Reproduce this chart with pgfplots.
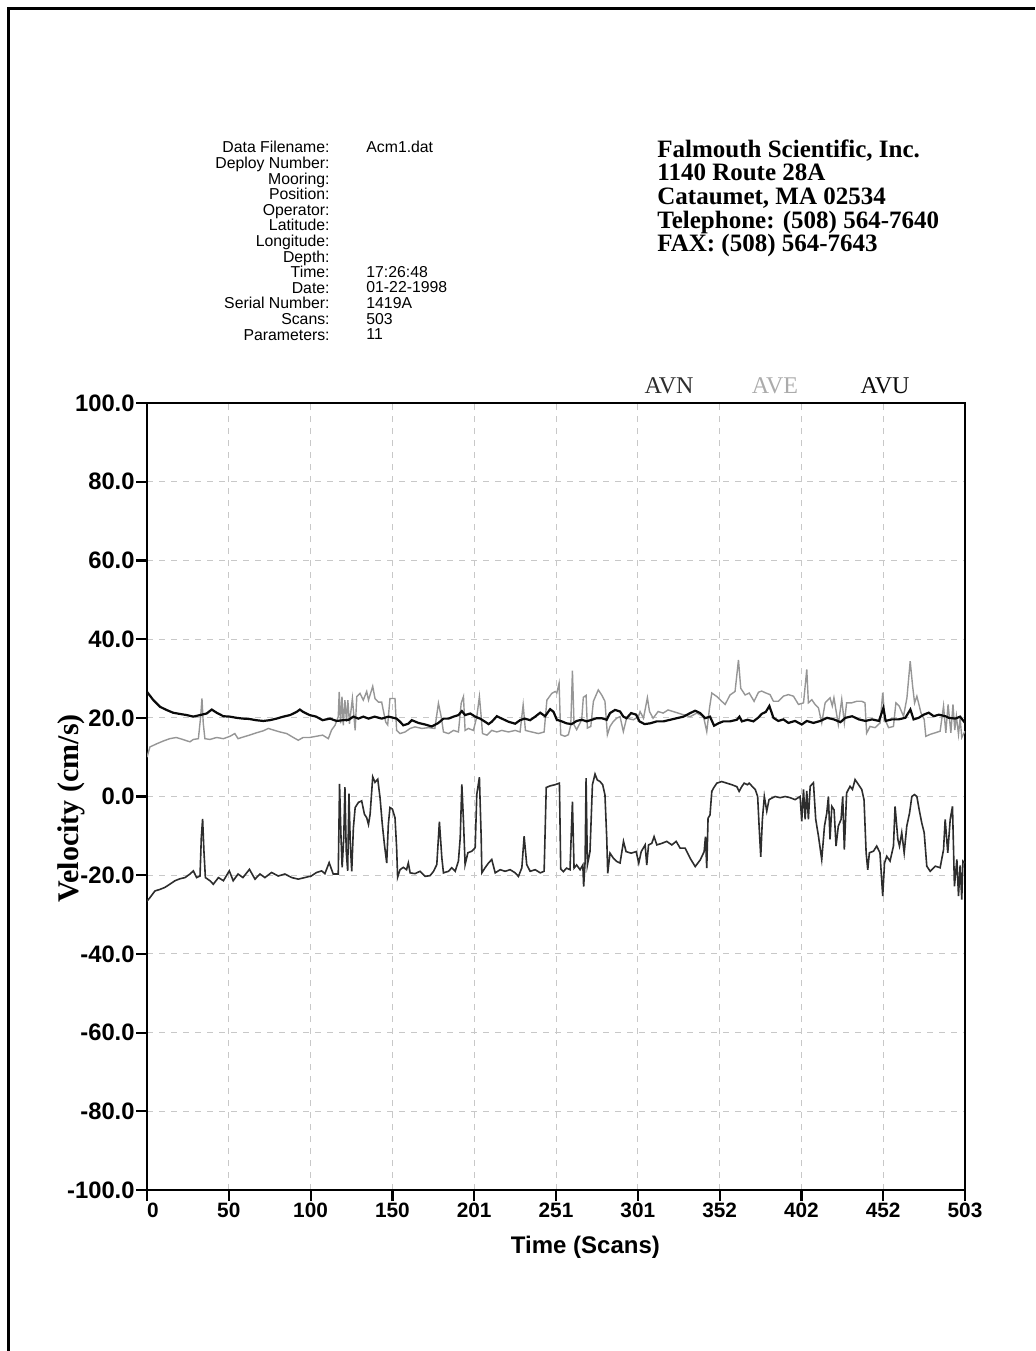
\documentclass[border=0pt]{standalone}
\usepackage{pgfplots}
\pgfplotsset{compat=1.18}
\usepackage{fontspec}
\setmainfont{Liberation Serif}
\newfontfamily\arial{Liberation Sans}
\newfontfamily\tnr{Liberation Serif}
\definecolor{avn}{RGB}{45,45,45}
\definecolor{ave}{RGB}{150,150,150}
\definecolor{avu}{RGB}{10,10,10}
\definecolor{gridc}{RGB}{200,200,200}
\begin{document}
\begin{tikzpicture}[x=0.5pt,y=-0.5pt]
\useasboundingbox (0,0) rectangle (1035,1351);
\draw[line width=1.5pt] (8,1351) -- (8,8) -- (1035,8);
% header block
\node[anchor=north east, align=right, inner sep=0pt, font=\arial\fontsize{7.9}{7.8}\selectfont] at (330,141)
 {Data Filename:\\Deploy Number:\\Mooring:\\Position:\\Operator:\\Latitude:\\Longitude:\\Depth:\\Time:\\Date:\\Serial Number:\\Scans:\\Parameters:};
\node[anchor=north west, align=left, inner sep=0pt, font=\arial\fontsize{7.9}{7.8}\selectfont] at (366,141) {Acm1.dat};
\node[anchor=north west, align=left, inner sep=0pt, font=\arial\fontsize{7.9}{7.8}\selectfont] at (366,265.8)
 {17:26:48\\01-22-1998\\1419A\\503\\11};
\node[anchor=north west, align=left, inner sep=0pt, font=\tnr\bfseries\fontsize{12.5}{11.85}\selectfont] at (657,139)
 {Falmouth Scientific, Inc.\\1140 Route 28A\\Cataumet, MA 02534\\Telephone: (508) 564-7640\\FAX: (508) 564-7643};
% legend
\node[anchor=base, inner sep=0pt, text=avn, font=\tnr\fontsize{12}{14}\selectfont] at (669,393) {AVN};
\node[anchor=base, inner sep=0pt, text=ave!80, font=\tnr\fontsize{12}{14}\selectfont] at (775,393) {AVE};
\node[anchor=base, inner sep=0pt, text=avu, font=\tnr\fontsize{12}{14}\selectfont] at (885,393) {AVU};
\begin{axis}[
  at={(73.5pt,-595pt)}, anchor=south west,
  scale only axis, width=409pt, height=393.5pt,
  xmin=0, xmax=503, ymin=-100, ymax=100,
  axis line style={line width=1.4pt},
  xtick={0,50.3,100.6,150.9,201.2,251.5,301.8,352.1,402.4,452.7,503},
  xticklabels={\hspace{6pt}0,50,100,150,201,251,301,352,402,452,503},
  ytick={-100,-80,-60,-40,-20,0,20,40,60,80,100},
  yticklabels={-100.0,-80.0,-60.0,-40.0,-20.0,0.0,20.0,40.0,60.0,80.0,100.0},
  xtick pos=bottom, ytick pos=left,
  tick align=outside, major tick length=5.5pt,
  every tick/.style={black, line width=1.1pt},
  xticklabel style={font=\arial\bfseries\fontsize{10.4}{12}\selectfont, inner sep=1pt},
  yticklabel style={font=\arial\bfseries\fontsize{11.9}{13}\selectfont, inner sep=0.5pt},
  grid=major,
  major grid style={gridc, dashed, dash pattern=on 3pt off 3pt, line width=0.5pt},
  xlabel={Time (Scans)},
  ylabel={Velocity (cm/s)},
  xlabel style={font=\arial\bfseries\fontsize{12}{14}\selectfont, at={(axis description cs:0.536,0)}, anchor=center, yshift=-28.5pt},
  ylabel style={font=\tnr\bfseries\fontsize{15}{17}\selectfont, at={(axis description cs:-0.092,0.485)}, anchor=center},
]
\addplot[ave, line width=0.7pt] coordinates {
(0,10)(1.8,12.6)(6,13.4)(10,14.1)(14,14.7)(18,15)(22,14.5)(26.4,13.9)(28.5,14.5)(31.6,14.7)(33,20.3)(33.8,24.9)(34.6,18.6)(35.6,14.7)(38.7,14.5)(42.8,15)(47,14.7)(51,15.3)(54,16)(56,14.7)(59,15.1)(63,15.6)(67.4,16.2)(71.5,16.7)(74.6,17.3)(77.7,16.9)(81.8,16.4)(85.9,16)(90,15)(93,14.3)(96,15)(100,15)(104,15.3)(108,15.6)(111.5,14.7)(113.5,16.9)(115.6,18.1)(117.6,20.3)(118.2,26.6)(119,18.6)(119.9,25.4)(120.7,18.1)(121.7,24.5)(122.7,19)(123.5,24.5)(124.5,18.5)(126.3,24.9)(128,16.8)(129,25.4)(131,26.2)(133,24.5)(135.1,26.7)(136.2,24.5)(138.8,28)(140.2,24.9)(142.3,24)(144.3,24)(145.3,21.9)(146.8,18.9)(148,18.2)(149.4,24.9)(152.5,24.9)(153.5,16.8)(155.6,16)(158.7,16.4)(161.8,17.3)(164.8,17.7)(169,17.3)(173.1,17.5)(177,17.3)(179.2,23.7)(180.9,20.3)(182.3,16.4)(185.4,16)(188.5,16.8)(191.5,16.4)(193.2,23.7)(194.6,25.4)(195.6,16.8)(197.6,17.3)(200.7,16.8)(202.8,20.3)(204.4,25.4)(205.5,20.3)(206.3,16)(209,15.6)(212,16.8)(215.1,16.4)(218.2,16.8)(222.3,16.4)(226.4,16.8)(229.4,16.4)(231.3,23.3)(232.7,16.8)(236.6,16.4)(240.7,16)(244.2,16.4)(245.9,24.5)(248.9,26.2)(251,26.7)(252,26.3)(253.4,28.8)(254.4,15.7)(257,15.3)(259.1,15.7)(260.6,18.2)(261.6,32)(262.6,18.2)(264.2,17)(267.3,19.5)(268.3,25.2)(270,25.7)(270.8,17.4)(272.9,17.8)(274.5,24.2)(277.5,27.1)(279.6,25.8)(281.6,24.2)(283.1,15.7)(284.7,17.8)(286.8,19.1)(288.8,19.9)(290.9,20.3)(292.9,16.5)(294.9,19.9)(299.1,19.5)(302.2,20.3)(303.2,21.6)(305.3,19.9)(307.7,25.1)(309,21.6)(311.2,19.9)(314.3,21.6)(317.4,21.2)(320.4,22)(323.5,21.6)(326.6,21.2)(329.7,20.8)(334,20.3)(338.1,21.2)(342.2,20.3)(344.2,16.5)(345.9,22.5)(347.3,26.3)(350.4,25.4)(353.4,24.2)(355.5,23.4)(358.5,25.8)(361.6,26.7)(363.7,34.7)(365.1,27.5)(367.8,25.8)(370.3,26.3)(373.3,24.2)(376,26.5)(378,26.8)(380,26.4)(383.1,25.9)(385.2,24.2)(388.2,24.2)(391.3,25.5)(394.4,25.9)(397.5,25.5)(400.6,23.4)(403.7,23.8)(405.7,32.3)(406.7,23.8)(408.8,24.6)(410.8,23.4)(412.9,22.5)(414.9,18.7)(417,23.8)(420,25.1)(421.4,23)(422.4,25.1)(425.1,18.3)(427.2,24.7)(428.8,18.7)(430.2,23.8)(433.3,23.8)(436.4,24.2)(439.5,24.2)(441.5,23.8)(442.5,16.1)(444.6,17.8)(447.7,17.5)(450.8,18.7)(452.4,26.4)(453.8,19.6)(456,17.5)(459,17.8)(460.5,23.8)(462.5,23)(465.2,20.4)(467.3,25.1)(469.3,34.4)(470.8,28)(472,23.8)(473.4,25.5)(475.9,21.3)(477.9,19.6)(478.9,15.3)(481.6,15.8)(484.7,16.2)(487.7,16.6)(489.8,23)(491.2,16.2)(492.6,23.4)(494.3,16.2)(495.6,23.4)(496.7,16.9)(497.7,20.4)(499,15.8)(500,19.9)(501,15)(503,16.6)
};
\addplot[avn, line width=0.8pt] coordinates {
(0,-26.6)(1.8,-25.7)(4.9,-24)(8,-23.6)(11,-23.1)(14,-22.3)(17.2,-21.4)(20.3,-20.9)(23.4,-20.6)(26.4,-19.7)(28.5,-18.9)(30.5,-20.6)(32.6,-20.2)(33.4,-10.4)(34.2,-5.7)(35,-13.8)(35.9,-20.6)(38.7,-21.4)(40.8,-22.3)(43.9,-20.6)(47,-21.4)(50.6,-18.9)(53,-21.4)(56,-19.7)(59,-20.6)(63,-18.5)(66.4,-21)(69.5,-19.7)(72.5,-20.6)(76.6,-19.3)(80.7,-20.2)(84.8,-19.7)(89,-20.6)(93,-21)(97,-20.6)(101,-20.2)(104.3,-19.3)(107.4,-18.9)(109.4,-19.6)(112,-16.8)(114.5,-19.7)(117.6,-19.7)(118.4,3.2)(119.3,-10.4)(120,-18)(121,-10.4)(121.7,2.4)(122.5,-13.8)(123.4,-18.9)(124.2,0.7)(125,-12)(125.9,-19)(126.9,-8)(128,-2.8)(130,-1.5)(132,-1.1)(133.7,-4.5)(135.1,-5.4)(136.2,-7.1)(137.2,-4.5)(138.8,5)(140.2,3.6)(141.9,4.4)(143.3,-0.3)(144.7,-7.1)(146,-12.2)(147.4,-16.9)(148.4,-7.1)(149.4,-2.8)(150.9,-3.2)(152.5,-5.4)(153.5,-13)(154.1,-20.5)(155.6,-18.6)(157.6,-18)(159.6,-18.6)(160.7,-16.9)(161.8,-19.4)(164.8,-19.6)(167.9,-19)(171,-20.3)(174.1,-20.1)(176.2,-19)(178.2,-17.3)(179.8,-6.4)(181.3,-15.6)(182.3,-19.4)(185.4,-19)(187.4,-18.1)(189.5,-19)(191.5,-16.4)(192.6,-10.5)(193.6,3.1)(194.6,-6.2)(195.6,-17.3)(197.3,-14.3)(199.7,-13.9)(201.8,-13)(202.8,0.6)(204.4,4.9)(205.5,-10.5)(205.9,-19.4)(207.9,-18.1)(210,-16.9)(212,-16)(214.1,-19.4)(217.2,-18.6)(220.2,-19)(223.3,-18.6)(226.4,-19.4)(228.4,-20.3)(230.5,-18.1)(231.9,-10.1)(233.5,-17.3)(235.6,-19)(238.7,-18.6)(241.8,-19.4)(244.2,-19)(245.5,2.3)(247.9,2.7)(250.9,3)(253.6,3.4)(254.4,-18.4)(256,-19.1)(258,-18.2)(260.1,-18.6)(261.6,-1.3)(262.6,-18.2)(264.2,-17.4)(266.3,-18.6)(268,-17.4)(268.5,-22.9)(269.4,-16.5)(270,4.7)(270.8,-17.4)(272.4,-14)(273.9,3)(275.5,5.7)(276.9,4.2)(278.6,3.8)(280.2,3)(281.6,0.4)(282.7,-10.6)(283.3,-19.5)(284.7,-14.4)(286.8,-15.7)(288.8,-16.5)(290.9,-16.9)(293,-11.4)(294.6,-14)(297.7,-14.4)(300.8,-14)(302.4,-16.9)(303.9,-14)(306.3,-12.3)(307.3,-17.4)(308.4,-12.3)(310.4,-11.9)(311.8,-10.2)(313.5,-12.3)(316.6,-11.9)(319.6,-11.4)(322.7,-12.3)(325.4,-11.4)(327.8,-13.1)(330.9,-13.1)(334,-15.7)(337.1,-17.8)(340.2,-16.1)(342.6,-14)(343.4,-10.2)(344.2,-18.2)(345,-5.5)(346.2,-4.7)(347.3,1.3)(348.3,2.1)(350.4,3.4)(353.4,3.8)(356.5,3.4)(359.6,3)(362.7,2.5)(364.1,1.3)(365.7,2.5)(367.2,3.4)(369.2,3)(370.3,3.4)(372.3,2.5)(374,1.8)(375.5,0)(376.4,-7.6)(377.4,-15.3)(378.4,-5.9)(379.6,0)(381.1,-3.7)(382.5,-0.8)(384.2,-0.4)(386.2,0)(389.3,-0.3)(392.4,0)(395.5,-0.3)(398.5,-0.8)(401.6,0)(402.6,-6.3)(403.7,1.8)(404.7,-5.8)(405.7,1.4)(406.7,-5.8)(407.8,2.6)(409.8,3.5)(411.2,-5.8)(412.9,-10.1)(414.9,-16)(416.6,-7.5)(418,-4.2)(419,0)(420,-10.9)(421.1,-2.5)(422.5,-3.4)(423.7,-12.6)(425.1,-7.5)(426.8,-5.8)(427.8,0)(428.8,-13.5)(430.2,0.9)(432.3,2.6)(433.8,1.8)(435.4,4.3)(437.4,3.1)(439.5,1.8)(440.9,-0.8)(442.2,-14.3)(443.2,-18.6)(444.2,-14.3)(446.7,-13.9)(448.7,-12.6)(450.7,-14.3)(452.4,-25.3)(453.5,-16.9)(454.9,-15.2)(456.9,-16.4)(459,-12.6)(460,-2.5)(461.7,-10.9)(462.7,-12.6)(464.1,-9.2)(465.6,-14.3)(467.2,-7.5)(468.9,-4.2)(470.3,0)(471.9,0.5)(473.4,0)(474.8,-3.3)(476.4,-6.7)(477.9,-9.2)(479.5,-17.7)(481.6,-19)(484.7,-17.7)(487.7,-18.1)(489.8,-13.5)(490.8,-5.8)(492.4,-14.3)(493.9,-5.8)(495.3,-2.5)(496.5,-22.8)(498,-16)(499,-25.3)(500,-17.5)(501,-26.2)(501.7,-16.4)(503,-16.9)
};
\addplot[avu, line width=1.1pt] coordinates {
(0,26.6)(3.9,24.5)(8,22.8)(12,22)(16,21.3)(20,21)(24.4,20.7)(28.5,20.3)(32.6,20.7)(36.7,21.1)(39.8,22.1)(42.8,21.3)(47,20.4)(51,20.3)(55,20)(59,19.8)(63,19.7)(67,19.4)(71.5,19.2)(75.6,19.4)(79.7,19.8)(83.8,20.3)(88,20.7)(92,21.5)(94,22.1)(96,21.5)(100,20.7)(104,20.3)(108,19.4)(112.5,19.8)(116.6,19.2)(120.7,19.4)(124,19.5)(126.9,20.3)(130,19.8)(133,20.3)(136.2,19.8)(140,20.3)(144.3,19.8)(148.5,20.3)(153.5,19.8)(155.6,19)(157.6,18.1)(160.7,18.5)(162.8,19.4)(166.9,18.7)(171,18.3)(175.1,17.8)(179.2,18.7)(182.3,19.8)(185.4,19.8)(188.5,20.3)(191.5,20.7)(193.6,21.7)(195.6,20.7)(198.8,21.1)(201.8,20.3)(204.8,19.8)(207.9,19)(210,18.4)(212,19)(215.1,20.4)(218.2,19.8)(222.3,19)(226.4,18.5)(229.4,19.4)(232.3,19.8)(235.6,19.4)(238.7,20.3)(241.8,21.3)(244.8,20.4)(247.9,22.2)(250,21.5)(252,19.5)(255,19.1)(258,18.6)(261.1,18.4)(264.2,19.2)(267.3,19.5)(270.4,19.1)(273.5,19.5)(276.5,19.9)(279.6,19.9)(282.7,19.5)(284.7,21.2)(287.8,22)(290.9,21.6)(292.9,20.3)(294.9,19.9)(297.7,21.2)(300.8,20.8)(302.8,19.1)(306,18.4)(309.4,18.6)(313.5,19.1)(317.6,19.1)(321.7,19.5)(325.8,19.9)(329.9,20.3)(334,21.2)(337.1,21.8)(340.2,21.2)(343.2,19.9)(346.2,20.3)(348.7,18)(351.4,18.6)(354.4,19.1)(358.5,19.1)(362.7,19.5)(364.3,20.3)(365.8,19.1)(369.2,19.5)(372.9,19.1)(376,20.1)(378,21)(380.5,21.5)(382.7,23)(385.2,20)(388.2,19.2)(391.3,19.6)(394.4,18.7)(398.5,19.2)(402.6,18.3)(405.7,19.2)(409.8,18.7)(414,19.2)(418.2,20)(422.3,19.6)(426.4,18.9)(429.5,20)(433.6,20.4)(437.7,19.6)(441.8,19.2)(445.9,19.6)(450.1,19.2)(452.8,22.5)(454.2,19.2)(457.9,19.6)(462.1,19.6)(466.3,20)(469.4,22.1)(471.4,19.6)(474.5,20)(477.6,20.8)(480.7,21.3)(483.8,20.4)(486.9,20.8)(491,20.4)(493,20)(497.1,19.8)(500,20.3)(503,18.7)
};
\end{axis}
\end{tikzpicture}
\end{document}
